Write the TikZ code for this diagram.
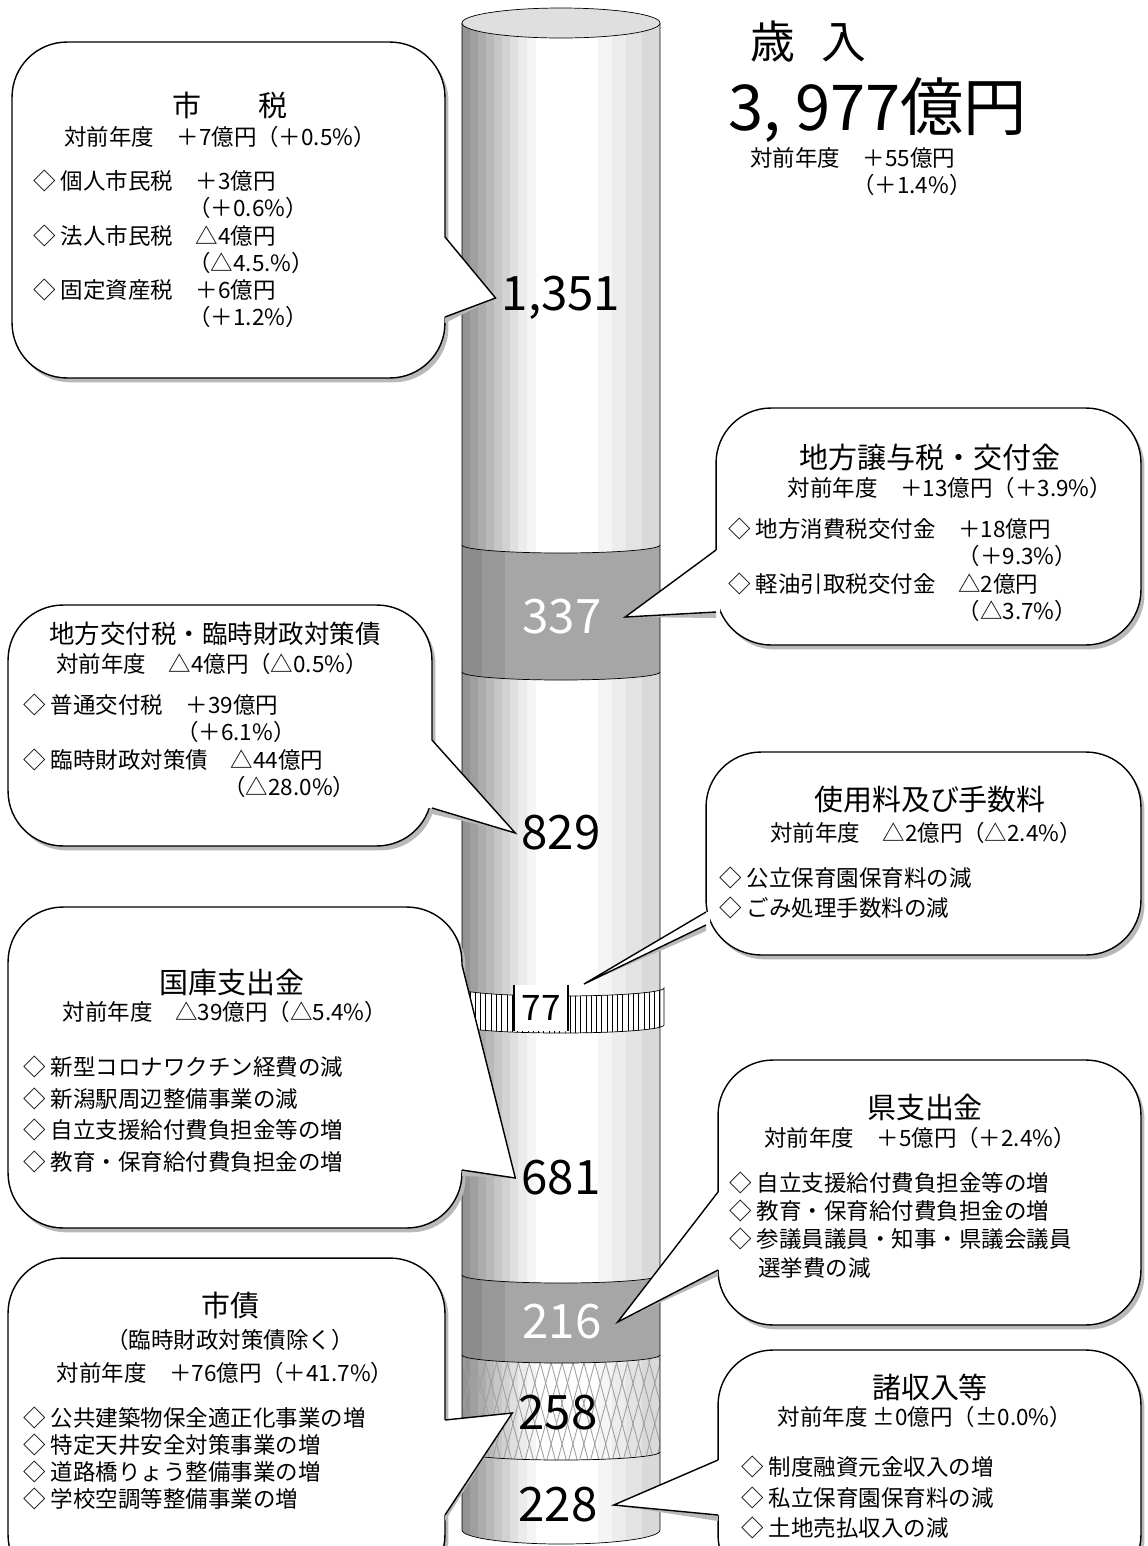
\documentclass[tikz,border=0pt]{standalone}
\usepackage{fontspec}
\setmainfont{Noto Sans CJK JP}
\usetikzlibrary{calc,shadows,patterns,patterns.meta}

\newcommand\hdrfont{\fontsize{16.5}{20}\selectfont}
\newcommand\bodyfont{\fontsize{12.8}{15.5}\selectfont}

\tikzset{
  bubble/.style={draw, line width=0.8pt, fill=white, rounded corners=1.1cm,
    drop shadow={shadow xshift=2pt, shadow yshift=-2.5pt, fill=gray!55, opacity=1}},
  hdr/.style={font=\hdrfont},
  chg/.style={font=\bodyfont},
  items/.style={font=\bodyfont, align=left, anchor=north west},
  num/.style={font=\fontsize{27}{27}\selectfont},
  pshade/.style={fill=gray!55},
  edge/.style={line width=0.8pt}
}

\begin{document}
\begin{tikzpicture}[x=0.02cm, y=0.02cm]
  \useasboundingbox (0,0) rectangle (1147,-1546);

  % Cylinder body, shaded in strips
  \begin{scope}
    \clip (462,-23) -- (462,-1530) arc[start angle=180, end angle=360, x radius=99, y radius=14] -- (660,-23) -- cycle;
    \fill[gray!85] (462,0) rectangle (470,-1550);
    \fill[gray!75] (470,0) rectangle (478,-1550);
    \fill[gray!65] (478,0) rectangle (486,-1550);
    \fill[gray!55] (486,0) rectangle (494,-1550);
    \fill[gray!45] (494,0) rectangle (502,-1550);
    \fill[gray!35] (502,0) rectangle (510,-1550);
    \fill[gray!25] (510,0) rectangle (518,-1550);
    \fill[gray!16] (518,0) rectangle (527,-1550);
    \fill[gray!8] (527,0) rectangle (536,-1550);
    \fill[white] (536,0) rectangle (598,-1550);
    \fill[gray!8] (598,0) rectangle (612,-1550);
    \fill[gray!15] (612,0) rectangle (626,-1550);
    \fill[gray!22] (626,0) rectangle (642,-1550);
    \fill[gray!30] (642,0) rectangle (660,-1550);
  \end{scope}
  % dark band (337)
  \begin{scope}
    \clip (462,-545) arc[start angle=180, end angle=360, x radius=99, y radius=8] -- (660,-672) arc[start angle=0, end angle=-180, x radius=99, y radius=8] -- cycle;
    \fill[gray!70] (462,-530) rectangle (660,-690);
    \fill[gray!90] (462,-530) rectangle (482,-690);
    \fill[gray!80] (482,-530) rectangle (505,-690);
  \end{scope}
  \draw (462,-545) arc[start angle=180, end angle=360, x radius=99, y radius=8];
  \draw (462,-672) arc[start angle=180, end angle=360, x radius=99, y radius=8];
  % dark band (216)
  \begin{scope}
    \clip (462,-1275) arc[start angle=180, end angle=360, x radius=99, y radius=8] -- (660,-1355) arc[start angle=0, end angle=-180, x radius=99, y radius=8] -- cycle;
    \fill[gray!70] (462,-1260) rectangle (660,-1370);
    \fill[gray!90] (462,-1260) rectangle (482,-1370);
    \fill[gray!80] (482,-1260) rectangle (505,-1370);
  \end{scope}
  \draw (462,-1275) arc[start angle=180, end angle=360, x radius=99, y radius=8];
  % hatched band (258)
  \fill[pattern={Lines[angle=75, distance=6pt, line width=0.5pt]}, pattern color=gray!75] (462,-1355) arc[start angle=180, end angle=360, x radius=99, y radius=8] -- (660,-1452) arc[start angle=0, end angle=-180, x radius=99, y radius=8] -- cycle;
  \fill[pattern={Lines[angle=105, distance=6pt, line width=0.5pt]}, pattern color=gray!75] (462,-1355) arc[start angle=180, end angle=360, x radius=99, y radius=8] -- (660,-1452) arc[start angle=0, end angle=-180, x radius=99, y radius=8] -- cycle;
  \draw (462,-1355) arc[start angle=180, end angle=360, x radius=99, y radius=8];
  \draw (462,-1452) arc[start angle=180, end angle=360, x radius=99, y radius=8];
  % ring (77)
  \draw[preaction={fill=white}, pattern=vertical lines] (458,-988) arc[start angle=180, end angle=360, x radius=103, y radius=8] -- (664,-1025) arc[start angle=0, end angle=-180, x radius=103, y radius=8] -- cycle;
  \node[fill=white, font=\fontsize{20}{20}\selectfont, inner xsep=4pt, inner ysep=6pt] (n77) at (541,-1008) {77};
  \draw[line width=1.2pt] (n77.north west) -- (n77.south west);
  \draw[line width=1.2pt] (n77.north east) -- (n77.south east);
  % outline and top
  \draw (462,-23) -- (462,-1530) arc[start angle=180, end angle=360, x radius=99, y radius=14] -- (660,-23);
  \draw[fill=gray!25] (561,-23) ellipse [x radius=99, y radius=15];

  % Numbers on the cylinder
  \node[num] (nTax) at (561,-298) {1,351};
  \node[num, text=white] (nTransfer) at (562,-617) {337};
  \node[num] (nAlloc) at (561,-833) {829};
  \node[num] (nNat) at (561,-1178) {681};
  \node[num, text=white] (nPref) at (562,-1322) {216};
  \node[num] (nBond) at (558,-1413) {258};
  \node[num] (nMisc) at (558,-1505) {228};
  \coordinate (feeTip) at (584,-984);

  % Total
  \node[font=\fontsize{25.5}{26}\selectfont, anchor=west] (totTitle) at (744,-42) {歳\hspace{0.6em}入};
  \node[font=\fontsize{36}{36}\selectfont, anchor=west] (totSum) at (722,-110) {3, 977億円};
  \node[chg, anchor=west] (totChg) at (744,-158) {対前年度　＋55億円};
  \node[chg, anchor=west] (totPct) at (846,-185) {（＋1.4\%）};

  % Boxes
  \node[bubble, minimum width=8.66cm, minimum height=6.72cm] (taxBox) at (228.5,-210) {};
  \node[bubble, minimum width=8.5cm, minimum height=4.74cm] (transferBox) at (928.5,-526.5) {};
  \node[bubble, minimum width=8.48cm, minimum height=4.82cm] (allocBox) at (220,-725.5) {};
  \node[bubble, minimum width=8.7cm, minimum height=4.06cm] (feeBox) at (923.5,-853.5) {};
  \node[bubble, minimum width=9.08cm, minimum height=6.42cm] (natBox) at (235,-1067.5) {};
  \node[bubble, minimum width=8.46cm, minimum height=5.3cm] (prefBox) at (929.5,-1192.5) {};
  \node[bubble, minimum width=8.74cm, minimum height=6.64cm] (bondBox) at (226.5,-1424) {};
  \node[bubble, minimum width=8.46cm, minimum height=4.8cm] (miscBox) at (929.5,-1470) {};

  % Pointers
  \coordinate (taxP1) at (445,-237);
  \coordinate (taxP2) at (445,-317);
  \fill[pshade] (nTax.west) -- (taxP2) -- ($(taxP2)+(0,-6)$) -- cycle;
  \fill[white] ($(taxP1)+(-4,0)$) -- (taxP1) -- (nTax.west) -- (taxP2) -- ($(taxP2)+(-4,0)$) -- cycle;
  \draw[edge] (taxP1) -- (nTax.west) -- (taxP2);

  \coordinate (transferP1) at (716,-550);
  \coordinate (transferP2) at (716,-612);
  \fill[pshade] ([xshift=0.35cm]nTransfer.east) -- (transferP2) -- ($(transferP2)+(0,-6)$) -- cycle;
  \fill[white] ($(transferP1)+(4,0)$) -- (transferP1) -- ([xshift=0.35cm]nTransfer.east) -- (transferP2) -- ($(transferP2)+(4,0)$) -- cycle;
  \draw[edge] (transferP1) -- ([xshift=0.35cm]nTransfer.east) -- (transferP2);

  \coordinate (allocP1) at (432,-740);
  \coordinate (allocP2) at (432,-808);
  \fill[pshade] (nAlloc.west) -- (allocP2) -- ($(allocP2)+(0,-6)$) -- cycle;
  \fill[white] ($(allocP1)+(-4,0)$) -- (allocP1) -- (nAlloc.west) -- (allocP2) -- ($(allocP2)+(-4,0)$) -- cycle;
  \draw[edge] (allocP1) -- (nAlloc.west) -- (allocP2);

  \coordinate (feeP1) at (706,-912);
  \coordinate (feeP2) at (706,-925);
  \fill[pshade] (feeTip) -- (feeP2) -- ($(feeP2)+(0,-6)$) -- cycle;
  \fill[white] ($(feeP1)+(4,0)$) -- (feeP1) -- (feeTip) -- (feeP2) -- ($(feeP2)+(4,0)$) -- cycle;
  \draw[edge] (feeP1) -- (feeTip) -- (feeP2);

  \coordinate (natP1) at (462,-965);
  \coordinate (natP2) at (462,-1170);
  \fill[pshade] (nNat.west) -- (natP2) -- ($(natP2)+(0,-6)$) -- cycle;
  \fill[white] ($(natP1)+(-4,0)$) -- (natP1) -- (nNat.west) -- (natP2) -- ($(natP2)+(-4,0)$) -- cycle;
  \draw[edge] (natP1) -- (nNat.west) -- (natP2);

  \coordinate (prefP1) at (718,-1192);
  \coordinate (prefP2) at (718,-1270);
  \fill[pshade] ([xshift=0.2cm]nPref.east) -- (prefP2) -- ($(prefP2)+(0,-6)$) -- cycle;
  \fill[white] ($(prefP1)+(4,0)$) -- (prefP1) -- ([xshift=0.2cm]nPref.east) -- (prefP2) -- ($(prefP2)+(4,0)$) -- cycle;
  \draw[edge] (prefP1) -- ([xshift=0.2cm]nPref.east) -- (prefP2);

  \coordinate (bondP1) at (445,-1420);
  \coordinate (bondP2) at (445,-1515);
  \fill[pshade] (nBond.west) -- (bondP2) -- ($(bondP2)+(0,-6)$) -- cycle;
  \fill[white] ($(bondP1)+(-4,0)$) -- (bondP1) -- (nBond.west) -- (bondP2) -- ($(bondP2)+(-4,0)$) -- cycle;
  \draw[edge] (bondP1) -- (nBond.west) -- (bondP2);

  \coordinate (miscP1) at (718,-1460);
  \coordinate (miscP2) at (718,-1515);
  \fill[pshade] ([xshift=0.2cm]nMisc.east) -- (miscP2) -- ($(miscP2)+(0,-6)$) -- cycle;
  \fill[white] ($(miscP1)+(4,0)$) -- (miscP1) -- ([xshift=0.2cm]nMisc.east) -- (miscP2) -- ($(miscP2)+(4,0)$) -- cycle;
  \draw[edge] (miscP1) -- ([xshift=0.2cm]nMisc.east) -- (miscP2);

  % Box texts
  \node[hdr] (taxTitle) at (230,-105) {市　　税};
  \node[chg] (taxChg) at (220,-137) {対前年度　＋7億円（＋0.5\%）};
  \node[items] (taxItems) at (27,-164) {◇ 個人市民税　＋3億円\\ \hspace*{6.9em}（＋0.6\%）\\ ◇ 法人市民税　△4億円\\ \hspace*{6.9em}（△4.5.\%）\\ ◇ 固定資産税　＋6億円\\ \hspace*{6.9em}（＋1.2\%）};

  \node[hdr] (transferTitle) at (930,-457) {地方譲与税・交付金};
  \node[chg] (transferChg) at (950,-488) {対前年度　＋13億円（＋3.9\%）};
  \node[items] (transferItems) at (722,-512) {◇ 地方消費税交付金　＋18億円\\ \hspace*{10.2em}（＋9.3\%）\\ ◇ 軽油引取税交付金　△2億円\\ \hspace*{10.2em}（△3.7\%）};

  \node[font=\fontsize{14.5}{17}\selectfont] (allocTitle) at (215,-634) {地方交付税・臨時財政対策債};
  \node[chg] (allocChg) at (212,-664) {対前年度　△4億円（△0.5\%）};
  \node[items] (allocItems) at (17,-688) {◇ 普通交付税　＋39億円\\ \hspace*{6.8em}（＋6.1\%）\\ ◇ 臨時財政対策債　△44億円\\ \hspace*{8.9em}（△28.0\%）};

  \node[hdr] (feeTitle) at (930,-800) {使用料及び手数料};
  \node[chg] (feeChg) at (926,-833) {対前年度　△2億円（△2.4\%）};
  \node[items, font=\fontsize{12.8}{17}\selectfont] (feeItems) at (713,-861) {◇ 公立保育園保育料の減\\ ◇ ごみ処理手数料の減};

  \node[hdr] (natTitle) at (232,-982) {国庫支出金};
  \node[chg] (natChg) at (225,-1012) {対前年度　△39億円（△5.4\%）};
  \node[items, font=\fontsize{12.8}{18}\selectfont] (natItems) at (17,-1050) {◇ 新型コロナワクチン経費の減\\ ◇ 新潟駅周辺整備事業の減\\ ◇ 自立支援給付費負担金等の増\\ ◇ 教育・保育給付費負担金の増};

  \node[hdr] (prefTitle) at (925,-1107) {県支出金};
  \node[chg] (prefChg) at (920,-1138) {対前年度　＋5億円（＋2.4\%）};
  \node[items, font=\fontsize{12.8}{16}\selectfont] (prefItems) at (723,-1166) {◇ 自立支援給付費負担金等の増\\ ◇ 教育・保育給付費負担金の増\\ ◇ 参議員議員・知事・県議会議員\\ \hspace*{1.3em}選挙費の減};

  \node[hdr] (bondTitle) at (230,-1305) {市債};
  \node[chg] (bondNote) at (230,-1340) {（臨時財政対策債除く）};
  \node[chg] (bondChg) at (225,-1373) {対前年度　＋76億円（＋41.7\%）};
  \node[items, font=\fontsize{12.8}{15.3}\selectfont] (bondItems) at (17,-1401) {◇ 公共建築物保全適正化事業の増\\ ◇ 特定天井安全対策事業の増\\ ◇ 道路橋りょう整備事業の増\\ ◇ 学校空調等整備事業の増};

  \node[hdr] (miscTitle) at (930,-1387) {諸収入等};
  \node[chg] (miscChg) at (925,-1417) {対前年度 ±0億円（±0.0\%）};
  \node[items, font=\fontsize{12.8}{17.4}\selectfont] (miscItems) at (735,-1450) {◇ 制度融資元金収入の増\\ ◇ 私立保育園保育料の減\\ ◇ 土地売払収入の減};
\end{tikzpicture}
\end{document}
